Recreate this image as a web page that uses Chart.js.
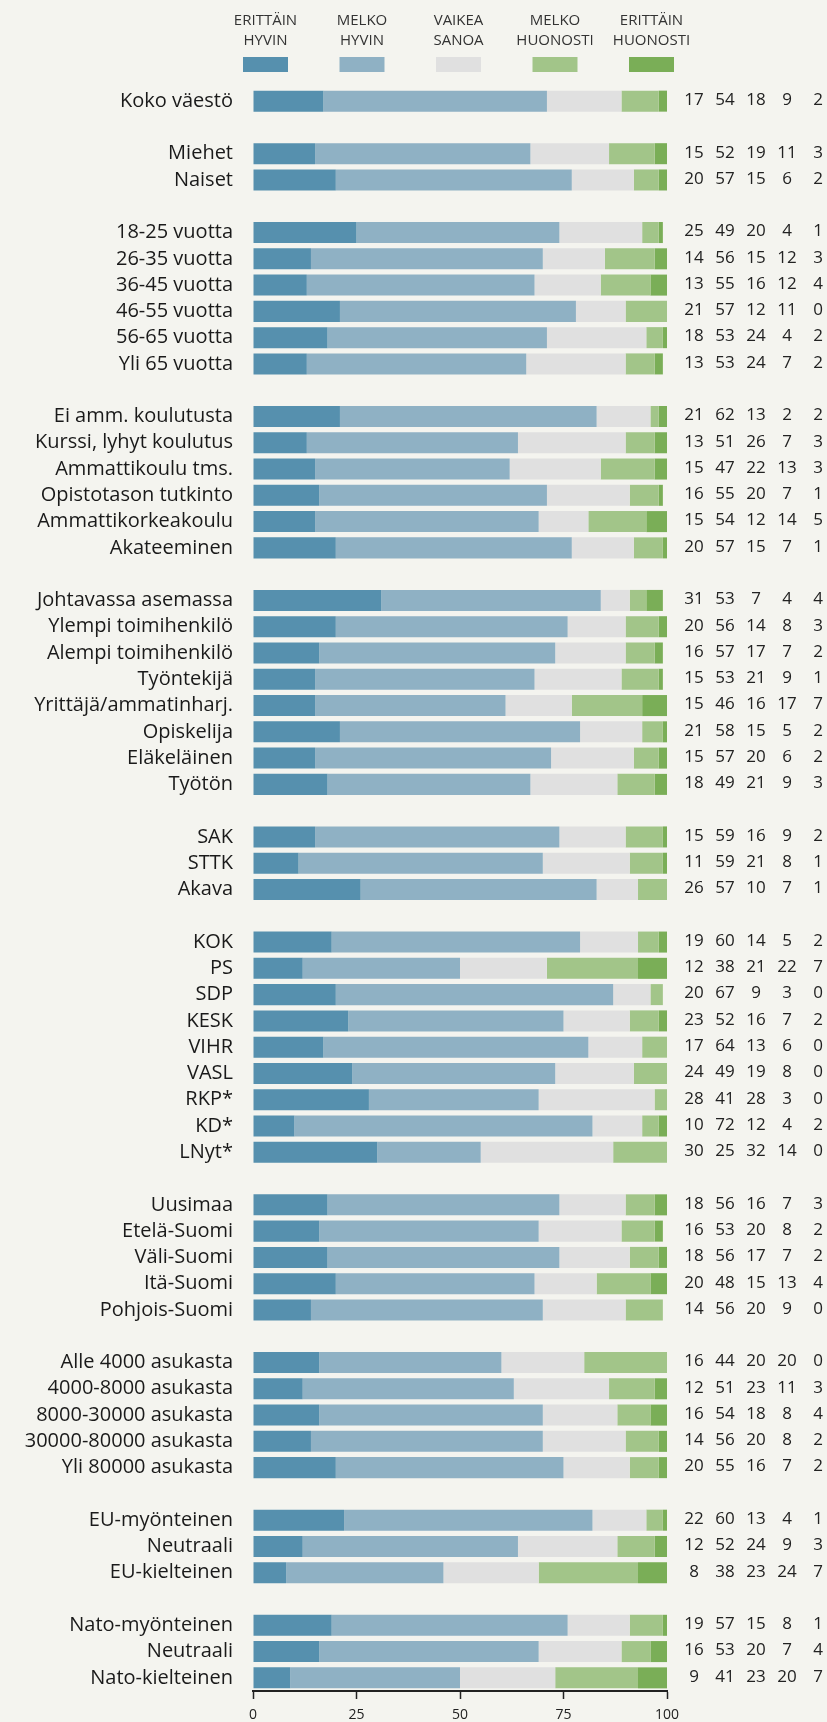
<!DOCTYPE html>
<html><head><meta charset="utf-8">
<script src="https://cdn.jsdelivr.net/npm/chart.js@4"></script>
<style>html,body{margin:0;padding:0;background:#F4F4EF;} canvas{display:block;}</style>
</head><body>
<canvas id="c" width="827" height="1722"></canvas>
<script>
const categories = [
'Koko väestö','',
'Miehet','Naiset','',
'18-25 vuotta','26-35 vuotta','36-45 vuotta','46-55 vuotta','56-65 vuotta','Yli 65 vuotta','',
'Ei amm. koulutusta','Kurssi, lyhyt koulutus','Ammattikoulu tms.','Opistotason tutkinto','Ammattikorkeakoulu','Akateeminen','',
'Johtavassa asemassa','Ylempi toimihenkilö','Alempi toimihenkilö','Työntekijä','Yrittäjä/ammatinharj.','Opiskelija','Eläkeläinen','Työtön','',
'SAK','STTK','Akava','',
'KOK','PS','SDP','KESK','VIHR','VASL','RKP*','KD*','LNyt*','',
'Uusimaa','Etelä-Suomi','Väli-Suomi','Itä-Suomi','Pohjois-Suomi','',
'Alle 4000 asukasta','4000-8000 asukasta','8000-30000 asukasta','30000-80000 asukasta','Yli 80000 asukasta','',
'EU-myönteinen','Neutraali','EU-kielteinen','',
'Nato-myönteinen','Neutraali','Nato-kielteinen'
];
const erittainHyvin = [17,null, 15,20,null, 25,14,13,21,18,13,null, 21,13,15,16,15,20,null, 31,20,16,15,15,21,15,18,null, 15,11,26,null, 19,12,20,23,17,24,28,10,30,null, 18,16,18,20,14,null, 16,12,16,14,20,null, 22,12,8,null, 19,16,9];
const melkoHyvin = [54,null, 52,57,null, 49,56,55,57,53,53,null, 62,51,47,55,54,57,null, 53,56,57,53,46,58,57,49,null, 59,59,57,null, 60,38,67,52,64,49,41,72,25,null, 56,53,56,48,56,null, 44,51,54,56,55,null, 60,52,38,null, 57,53,41];
const vaikeaSanoa = [18,null, 19,15,null, 20,15,16,12,24,24,null, 13,26,22,20,12,15,null, 7,14,17,21,16,15,20,21,null, 16,21,10,null, 14,21,9,16,13,19,28,12,32,null, 16,20,17,15,20,null, 20,23,18,20,16,null, 13,24,23,null, 15,20,23];
const melkoHuonosti = [9,null, 11,6,null, 4,12,12,11,4,7,null, 2,7,13,7,14,7,null, 4,8,7,9,17,5,6,9,null, 9,8,7,null, 5,22,3,7,6,8,3,4,14,null, 7,8,7,13,9,null, 20,11,8,8,7,null, 4,9,24,null, 8,7,20];
const erittainHuonosti = [2,null, 3,2,null, 1,3,4,0,2,2,null, 2,3,3,1,5,1,null, 4,3,2,1,7,2,2,3,null, 2,1,1,null, 2,7,0,2,0,0,0,2,0,null, 3,2,2,4,0,null, 0,3,4,2,2,null, 1,3,7,null, 1,4,7];
const seriesNames = [['ERITTÄIN','HYVIN'],['MELKO','HYVIN'],['VAIKEA','SANOA'],['MELKO','HUONOSTI'],['ERITTÄIN','HUONOSTI']];
const seriesColors = ['#5690AE','#8FB1C4','#E0E0E0','#A2C589','#7AAE57'];
const seriesValues = [erittainHyvin, melkoHyvin, vaikeaSanoa, melkoHuonosti, erittainHuonosti];
const xTicks = [0,25,50,75,100];

const FONT = '"Open Sans", "Noto Sans", sans-serif';

const bgPlugin = {
  id:'bg',
  beforeDraw(chart){
    const ctx = chart.ctx; ctx.save();
    ctx.fillStyle = '#F4F4EF'; ctx.fillRect(0,0,chart.width,chart.height);
    ctx.restore();
  }
};
const legendPlugin = {
  id:'legendTop',
  afterDraw(chart){
    const ctx = chart.ctx; ctx.save();
    ctx.font = '15px ' + FONT; ctx.textAlign = 'center'; ctx.textBaseline = 'middle';
    seriesNames.forEach((lines,i)=>{
      const cx = 265.5 + i*96.5;
      ctx.fillStyle = '#333';
      lines.forEach((t,j)=> ctx.fillText(t, cx, 21 + j*19.5));
      ctx.fillStyle = seriesColors[i];
      ctx.fillRect(cx-22.5, 57, 45, 15);
    });
    ctx.restore();
  }
};
const valuesPlugin = {
  id:'rowValues',
  afterDatasetsDraw(chart){
    const ctx = chart.ctx, yScale = chart.scales.y, right = chart.chartArea.right;
    ctx.save();
    ctx.font = '17px ' + FONT; ctx.fillStyle = '#222'; ctx.textAlign = 'center'; ctx.textBaseline = 'middle';
    categories.forEach((c,r)=>{
      if (erittainHyvin[r] == null) return;
      const y = yScale.getPixelForValue(r);
      seriesValues.forEach((arr,i)=> ctx.fillText(String(arr[r]), right + 27 + i*31, y - 1));
    });
    ctx.restore();
  }
};

new Chart(document.getElementById('c'), {
  type:'bar',
  data:{
    labels: categories,
    datasets: seriesValues.map((d,i)=>({
      label: seriesNames[i].join(' '), data: d, backgroundColor: seriesColors[i],
      borderWidth: 0, barPercentage: 0.8, categoryPercentage: 1
    }))
  },
  options:{
    responsive:false, animation:false, indexAxis:'y',
    layout:{padding:{top:88,right:160,left:0,bottom:0}},
    plugins:{legend:{display:false}, tooltip:{enabled:false}},
    scales:{
      x:{
        stacked:true, min:0, max:100,
        afterBuildTicks: s => { s.ticks = xTicks.map(v=>({value:v})); },
        grid:{display:true, drawOnChartArea:false, drawTicks:true, tickLength:8, tickColor:'#222', tickWidth:1.5},
        border:{display:true, color:'#222', width:2},
        ticks:{font:{family:FONT, size:14}, color:'#222', padding:8, maxRotation:0, autoSkip:false},
        afterFit: s => { s.height = 31; }
      },
      y:{
        stacked:true,
        grid:{display:false}, border:{display:false},
        ticks:{font:{family:FONT, size:20}, color:'#1a1a1a', padding:12, autoSkip:false},
        afterFit: s => { s.width = 253; }
      }
    }
  },
  plugins:[bgPlugin, legendPlugin, valuesPlugin]
});
</script>
</body></html>
